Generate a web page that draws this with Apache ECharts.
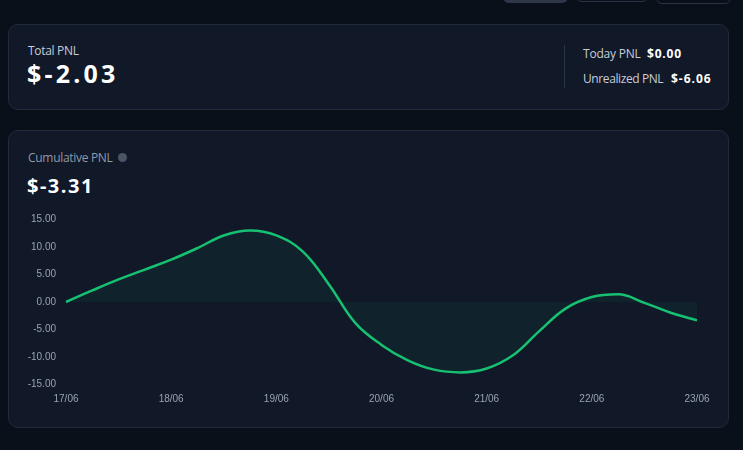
<!DOCTYPE html>
<html><head><meta charset="utf-8">
<script src="https://cdn.jsdelivr.net/npm/echarts@6/dist/echarts.min.js"></script>
<style>
html,body{margin:0;padding:0;width:743px;height:450px;background:#0a101a;overflow:hidden;font-family:"Open Sans","Lato",sans-serif;}
.card{position:absolute;left:8px;width:721px;background:#111827;border:1px solid #222b3b;border-radius:10px;box-sizing:border-box;}
.btn{position:absolute;top:-30px;height:33px;border-radius:6px;box-sizing:border-box;}
.t{position:absolute;white-space:nowrap;}
#chart{position:absolute;left:0;top:0;width:743px;height:450px;}
</style></head><body>
<div class="btn" style="left:503px;width:65px;background:#2d3748;"></div>
<div class="btn" style="left:576px;width:72px;border:1px solid #2a3344;top:-31px;"></div>
<div class="btn" style="left:656px;width:75px;border:1px solid #2a3344;top:-29px;"></div>
<div class="card" style="top:24px;height:86px;"></div>
<div class="t" style="left:28px;top:42px;font-size:12px;color:#c7ced9;letter-spacing:-0.3px;">Total PNL</div>
<div class="t" style="left:27px;top:56px;font-size:25px;font-weight:700;color:#ffffff;letter-spacing:3.2px;">$-2.03</div>
<div style="position:absolute;left:564px;top:45px;width:1px;height:43px;background:#2a3344;"></div>
<div class="t" style="left:583px;top:45px;font-size:12px;color:#c7ced9;letter-spacing:-0.2px;">Today PNL</div>
<div class="t" style="left:647px;top:45px;font-size:12px;font-weight:700;color:#fff;letter-spacing:0.8px;">$0.00</div>
<div class="t" style="left:583px;top:70px;font-size:12px;color:#c7ced9;letter-spacing:-0.4px;">Unrealized PNL</div>
<div class="t" style="left:671px;top:70px;font-size:12px;font-weight:700;color:#fff;letter-spacing:1px;">$-6.06</div>
<div class="card" style="top:130px;height:298px;"></div>
<div class="t" style="left:28px;top:149px;font-size:12px;color:#8f99aa;letter-spacing:-0.3px;">Cumulative PNL</div>
<div style="position:absolute;left:118px;top:153px;width:9px;height:9px;border-radius:50%;background:#4b5566;"></div>
<div class="t" style="left:27px;top:172px;font-size:20px;font-weight:700;color:#ffffff;letter-spacing:1.5px;">$-3.31</div>
<div id="chart"></div>
<script>
const categories = ['17/06','','','','18/06','','','','19/06','','','','20/06','','','','21/06','','','','22/06','','','','23/06'];
const pnlValues = [0, 2.1, 4.1, 5.9, 7.7, 9.8, 12.1, 13.0, 12.1, 9.2, 3.2, -3.8, -7.8, -10.6, -12.3, -12.8, -12.1, -9.7, -5.3, -1.2, 0.9, 1.4, -0.15, -1.95, -3.31];
const yMin = -15, yMax = 15, yStep = 5;

const chart = echarts.init(document.getElementById('chart'), null, {renderer:'canvas'});
chart.setOption({
  backgroundColor: 'transparent',
  animation: false,
  grid: {left: 66, right: 46, top: 219.5, bottom: 65.5, containLabel: false},
  xAxis: {
    type: 'category', data: categories, boundaryGap: false,
    axisLine: {show: false}, axisTick: {show: false}, splitLine: {show: false},
    axisLabel: {color: '#9aa3b2', fontSize: 10, margin: 10, interval: 0, fontFamily: 'Liberation Sans, Arial, sans-serif'}
  },
  yAxis: {
    type: 'value', min: yMin, max: yMax, interval: yStep,
    axisLine: {show: false}, axisTick: {show: false}, splitLine: {show: false},
    axisLabel: {color: '#9aa3b2', fontSize: 10, margin: 10, fontFamily: 'Liberation Sans, Arial, sans-serif',
      formatter: v => v.toFixed(2)}
  },
  series: [{
    type: 'line', data: pnlValues, smooth: 0.4, showSymbol: false,
    lineStyle: {color: '#16c172', width: 2.5},
    areaStyle: {color: 'rgba(22,193,114,0.09)', origin: 0}
  }]
});
</script>
</body></html>
